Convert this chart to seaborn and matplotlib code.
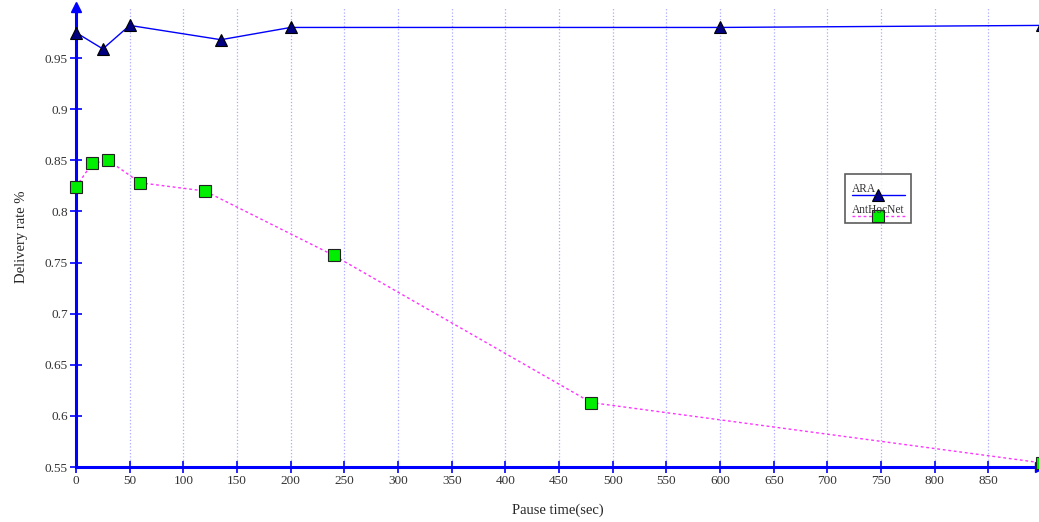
import pandas as pd
import matplotlib.pyplot as plt
import seaborn as sns
from matplotlib.legend_handler import HandlerLine2D

# Values
ara_pause = [0, 25, 50, 135, 200, 600, 900]
ara_rate = [0.975, 0.959, 0.982, 0.968, 0.980, 0.980, 0.982]

ant_pause = [0, 15, 30, 60, 120, 240, 480, 900]
ant_rate = [0.824, 0.847, 0.850, 0.828, 0.820, 0.757, 0.613, 0.554]

x_ticks = list(range(0, 851, 50))
y_ticks = [0.55, 0.6, 0.65, 0.7, 0.75, 0.8, 0.85, 0.9, 0.95]

ara_df = pd.DataFrame({'Pause': ara_pause, 'Rate': ara_rate})
ant_df = pd.DataFrame({'Pause': ant_pause, 'Rate': ant_rate})


# legend sample drawn below its label, like the original tool does it
class HandlerBelow(HandlerLine2D):
    def create_artists(self, legend, orig_handle, xdescent, ydescent, width, height,
                       fontsize, trans):
        artists = super().create_artists(legend, orig_handle, xdescent, ydescent,
                                         width, height, fontsize, trans)
        for a in artists:
            a.set_ydata([y - 0.8 * fontsize for y in a.get_ydata()])
        return artists


sns.set_style("white")
plt.rcParams['font.family'] = ['Liberation Serif', 'DejaVu Serif']

fig = plt.figure(figsize=(10.39, 5.22), dpi=100)
ax = fig.add_axes([76 / 1039, 55 / 522, 964 / 1039, 460 / 522])

sns.lineplot(data=ara_df, x='Pause', y='Rate', ax=ax, color='#0000ff', linewidth=1.0,
             marker='^', markersize=9, markerfacecolor='#000080', markeredgecolor='black',
             markeredgewidth=0.8, label='ARA', clip_on=False, zorder=4)
sns.lineplot(data=ant_df, x='Pause', y='Rate', ax=ax, color='#ff33ff', linewidth=1.0,
             linestyle=(0, (2, 2)), marker='s', markersize=9, markerfacecolor='#00ee00',
             markeredgecolor='#222222', markeredgewidth=0.8, label='AntHocNet',
             clip_on=False, zorder=4)

ax.set_xlim(0, 898)
ax.set_ylim(0.55, 1.0)
ax.set_xticks(x_ticks)
ax.set_yticks(y_ticks)
ax.set_yticklabels([f'{v:g}' for v in y_ticks])

# vertical dotted grid only
ax.xaxis.grid(True, linestyle=':', color='#aaaaff', linewidth=0.9)
ax.yaxis.grid(False)

for side in ['top', 'right']:
    ax.spines[side].set_visible(False)
for side in ['left', 'bottom']:
    ax.spines[side].set_color('#0000ff')
    ax.spines[side].set_linewidth(2.2)

ax.tick_params(axis='both', colors='#0000ff', direction='inout', length=8, width=1.2,
               labelcolor='#333333', labelsize=9.5, pad=2, bottom=True, left=True)

# axis arrows
ax.plot(0, 1, marker='^', color='#0000ff', markersize=7, transform=ax.transAxes, clip_on=False)
ax.plot(1, 0, marker='>', color='#0000ff', markersize=7, transform=ax.transAxes, clip_on=False)

ax.set_xlabel('Pause time(sec)', fontsize=10.5, labelpad=12)
ax.set_ylabel('Delivery rate %', fontsize=10.5, labelpad=12)

handles, labels = ax.get_legend_handles_labels()
leg = ax.legend(handles, labels, loc='upper left', bbox_to_anchor=(0.798, 0.637),
                fontsize=8.3, frameon=True, fancybox=False, handlelength=4.6,
                handleheight=1.7, handletextpad=-4.6, borderpad=0.55, labelspacing=0.45,
                borderaxespad=0,
                handler_map={h: HandlerBelow() for h in handles})
leg.get_frame().set_edgecolor('#333333')
leg.get_frame().set_linewidth(1.2)
for t in leg.get_texts():
    t.set_color('#333333')

plt.savefig('out.png', dpi=100)
